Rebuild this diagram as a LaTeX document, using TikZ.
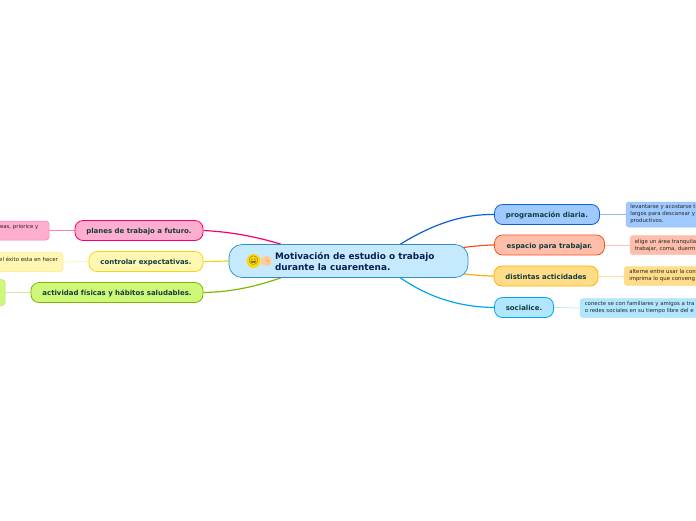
\documentclass[tikz,border=0pt]{standalone}
\usepackage{fontspec}
\setmainfont{DejaVu Sans}
\newfontfamily\emojifont{Noto Emoji}
\usetikzlibrary{positioning, backgrounds}
\definecolor{rootFill}{RGB}{197,233,253}
\definecolor{rootLine}{RGB}{50,140,200}
\definecolor{titleInk}{RGB}{10,30,80}
\definecolor{branchInk}{RGB}{15,60,60}
\definecolor{pinkFill}{RGB}{255,174,207}
\definecolor{pinkLine}{RGB}{245,0,110}
\definecolor{yellowFill}{RGB}{255,247,178}
\definecolor{yellowLine}{RGB}{240,215,30}
\definecolor{greenFill}{RGB}{208,248,120}
\definecolor{greenLine}{RGB}{125,185,0}
\definecolor{blueFill}{RGB}{160,202,255}
\definecolor{blueLine}{RGB}{10,95,215}
\definecolor{redFill}{RGB}{255,190,170}
\definecolor{redLine}{RGB}{250,80,30}
\definecolor{orangeFill}{RGB}{255,220,135}
\definecolor{orangeLine}{RGB}{255,175,0}
\definecolor{skyFill}{RGB}{178,230,255}
\definecolor{skyLine}{RGB}{0,165,240}
\begin{document}
\begin{tikzpicture}[
    x=1pt, y=-1pt,
    root/.style={draw=rootLine, fill=rootFill, rounded corners=13pt, line width=0.7pt,
                 minimum width=239pt, minimum height=33pt},
    branch/.style={rounded corners=8pt, line width=0.8pt, minimum height=20pt, text height=6pt, text depth=0pt,
                   font=\fontsize{6.95}{8}\selectfont\bfseries, text=branchInk, inner sep=0pt},
    leaf/.style={rounded corners=3pt, line width=0.5pt, font=\fontsize{5.4}{7}\selectfont,
                 text=black!85, align=left, inner sep=0pt},
    rootlink/.style={line width=1.2pt},
    leaflink/.style={line width=0.7pt}
  ]
    \useasboundingbox (0,0) rectangle (696,520);
    \clip (0,0) rectangle (696,520);

    % root
    \node[root] (main) at (348.5,261) {};
    \node[anchor=west, align=left, font=\fontsize{8.9}{11.5}\selectfont\bfseries, text=titleInk] (title) at (271.5,261.5)
      {Motivación de estudio o trabajo\\durante la cuarentena.};
    \node[circle, fill=yellow!75!orange, inner sep=0pt, minimum size=10pt, text=black!75,
          font=\emojifont\fontsize{8.5}{8.5}\selectfont] (smile) at (253.5,261) {😀};
    \node[rounded corners=3pt, fill=orange!35!white, inner sep=0pt, minimum width=8pt, minimum height=9pt, text=orange!65!white,
          font=\emojifont\fontsize{8.5}{8.5}\selectfont] (thumb) at (266,261) {👍};

    % left side
    \node[branch, draw=pinkLine, fill=pinkFill, minimum width=128pt] (planes) at (139,230.5) {planes de trabajo a futuro.};
    \node[branch, draw=yellowLine, fill=yellowFill, minimum width=114pt] (expect) at (146,261.5) {controlar expectativas.};
    \node[branch, draw=greenLine, fill=greenFill, minimum width=172pt] (fisica) at (117,292.5) {actividad físicas y hábitos saludables.};
    \node[leaf, draw=pinkLine!50, fill=pinkFill, minimum width=80pt, minimum height=19pt] (planesLeaf) at (9,230.5) {};
    \node[anchor=east, inner sep=0pt, font=\fontsize{5.4}{7}\selectfont, text=black!85] (planesText) at (38.5,227.5) {eas, priorice y};
    \node[leaf, draw=yellowLine!50, fill=yellowFill, minimum width=110pt, minimum height=19pt] (expectLeaf) at (8,262) {};
    \node[anchor=east, inner sep=0pt, font=\fontsize{5.4}{7}\selectfont, text=black!85] (expectText) at (58,259) {el éxito esta en hacer};
    \node[leaf, draw=greenLine!50, fill=greenFill, minimum width=30pt, minimum height=26pt] (fisicaLeaf) at (-10,292.5) {};

    % right side
    \node[branch, draw=blueLine, fill=blueFill, minimum width=105pt] (prog) at (547,214.5) {programación diaria.};
    \node[branch, draw=redLine, fill=redFill, minimum width=110pt] (espacio) at (549.5,245) {espacio para trabajar.};
    \node[branch, draw=orangeLine, fill=orangeFill, minimum width=104pt] (activ) at (546,276) {distintas acticidades};
    \node[branch, draw=skyLine, fill=skyFill, minimum width=59pt] (social) at (524,307.5) {socialice.};
    \node[leaf, draw=blueLine!45, fill=blueFill, minimum width=120pt, minimum height=25pt] (progLeaf) at (686,214.5) {};
    \node[leaf, anchor=west] (progText) at (630,214.5) {levantarse y acostarse t\\largos para descansar y\\productivos.};
    \node[leaf, draw=redLine!35, fill=redFill, minimum width=120pt, minimum height=19pt] (espLeaf) at (690,245) {};
    \node[leaf, anchor=west] (espText) at (634.5,245) {elige un área tranquila\\trabajar, coma, duerm};
    \node[leaf, draw=orangeLine!40, fill=orangeFill, minimum width=120pt, minimum height=19pt] (actLeaf) at (684,276) {};
    \node[leaf, anchor=west] (actText) at (629,276) {alterne entre usar la con\\imprima lo que conveng};
    \node[leaf, draw=skyLine!30, fill=skyFill, minimum width=180pt, minimum height=19pt] (socLeaf) at (670,308) {};
    \node[leaf, anchor=west] (socText) at (584.5,308) {conecte se con familiares y amigos a tra\\o redes sociales en su tiempo libre del e};

    \begin{scope}[on background layer]
      % links to the root
      \draw[pinkLine, rootlink] (planes.east) .. controls (235,232) and (260,238) .. (main.166);
      \draw[yellowLine, rootlink] (expect.east) -- (main.west);
      \draw[greenLine, rootlink] (fisica.east) .. controls (235,292) and (260,285) .. (main.194);
      \draw[blueLine, rootlink] (prog.west) .. controls (460,214) and (430,226) .. (main.18);
      \draw[redLine, rootlink] (espacio.west) .. controls (470,245) and (440,252) .. (main.center);
      \draw[orangeLine, rootlink] (activ.west) .. controls (470,276) and (440,270) .. (main.center);
      \draw[skyLine, rootlink] (social.west) .. controls (460,307) and (430,298) .. (main.342);

      % links to the leaves
      \draw[pinkLine!50, leaflink] (planesLeaf.east) -- (planes.west);
      \draw[yellowLine!35, leaflink] (expectLeaf.east) -- (expect.west);
      \draw[greenLine!35, leaflink] (fisicaLeaf.east) -- (fisica.west);
      \draw[blueLine!45, leaflink] (prog.east) -- (progLeaf.west);
      \draw[redLine!35, leaflink] (espacio.east) -- (espLeaf.west);
      \draw[orangeLine!40, leaflink] (activ.east) -- (actLeaf.west);
      \draw[skyLine!30, leaflink] (social.east) -- (socLeaf.west);
    \end{scope}
  \end{tikzpicture}
\end{document}
